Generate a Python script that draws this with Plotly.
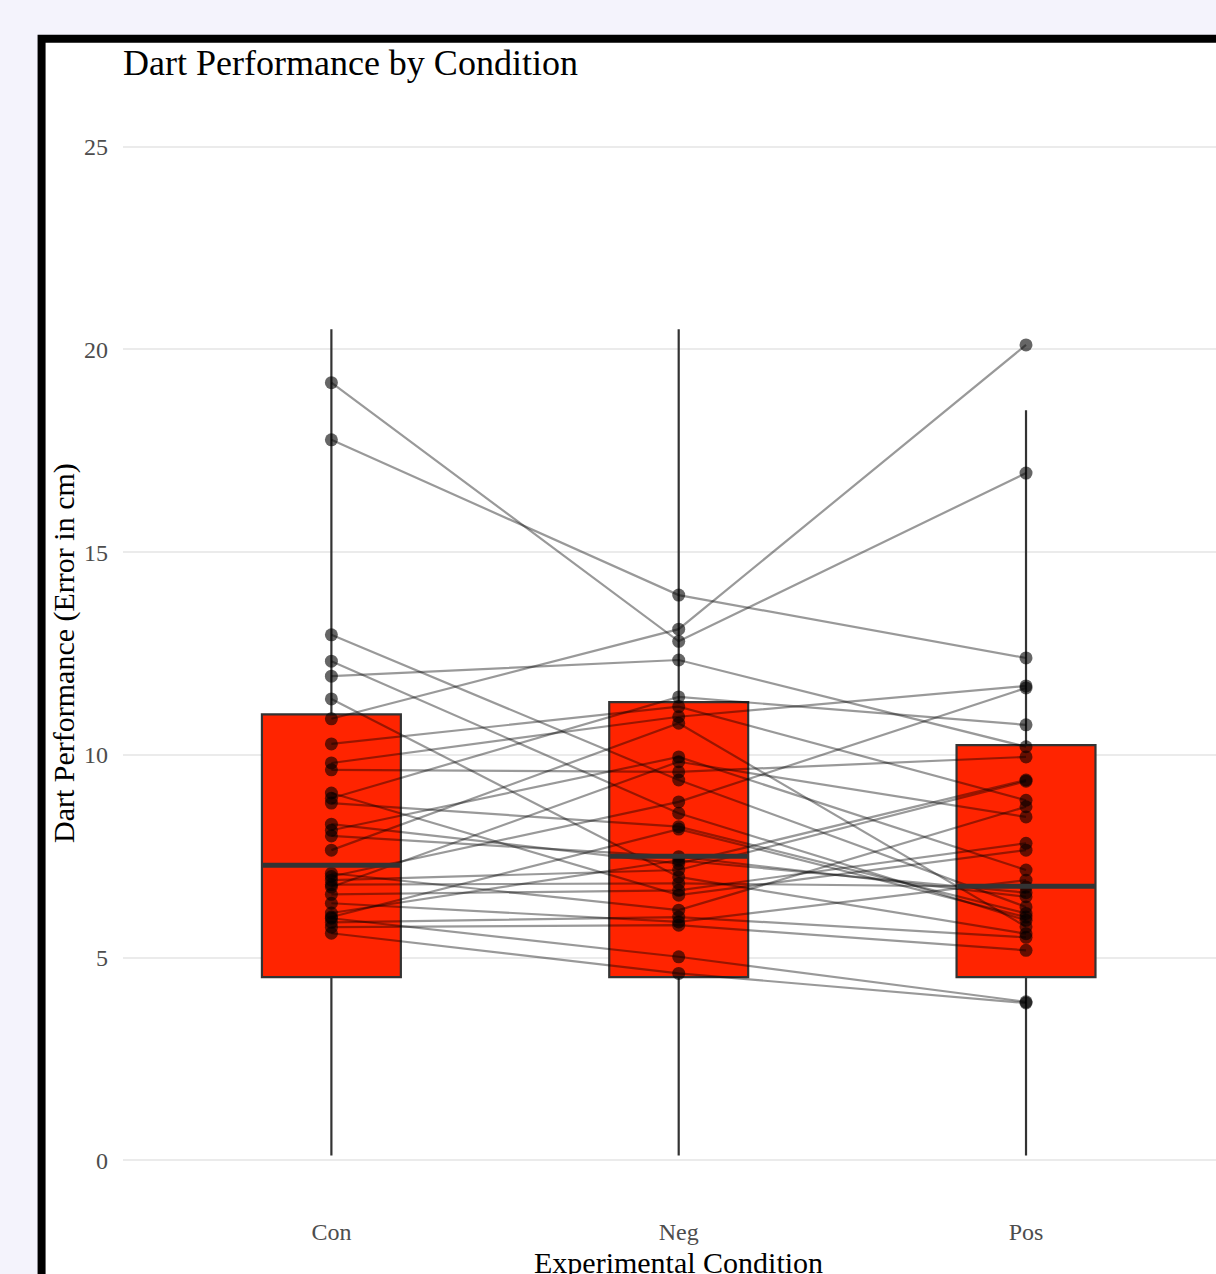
import plotly.graph_objects as go

# ---- data ----
conditions = ["Con", "Neg", "Pos"]

con_vals = [19.18, 17.77, 12.96, 12.31, 11.94, 11.38, 10.89, 10.27, 9.80, 9.63,
            9.06, 8.93, 8.81, 8.29, 8.14, 8.00, 7.65, 7.08, 7.00, 6.91,
            6.80, 6.74, 6.56, 6.34, 6.10, 6.00, 5.97, 5.87, 5.75, 5.60]
neg_vals = [12.80, 13.94, 9.38, 8.56, 12.34, 6.99, 13.10, 11.19, 10.94, 9.58,
            6.54, 11.43, 8.23, 7.32, 9.95, 7.49, 10.78, 6.17, 8.84, 7.16,
            6.83, 9.83, 6.66, 5.88, 7.40, 8.17, 5.02, 6.00, 5.80, 4.61]
pos_vals = [16.95, 12.39, 6.25, 5.92, 10.20, 5.59, 20.11, 8.88, 11.70, 9.95,
            7.65, 10.74, 6.09, 9.38, 7.16, 6.50, 5.76, 8.72, 11.65, 9.35,
            6.74, 8.47, 7.82, 6.91, 6.60, 6.00, 3.91, 5.50, 5.18, 3.88]

box_q1 = [4.52, 4.52, 4.52]
box_median = [7.28, 7.50, 6.76]
box_q3 = [11.00, 11.30, 10.24]
box_lower = [0.12, 0.12, 0.12]
box_upper = [20.50, 20.50, 18.50]

y_ticks = [0, 5, 10, 15, 20, 25]

# ---- style ----
FONT = "Liberation Serif"
BOX_FILL = "#ff2400"
BOX_LINE = "#333333"
BG = "#f4f3fc"

fig = go.Figure()

fig.add_trace(go.Box(
    x=conditions, q1=box_q1, median=box_median, q3=box_q3,
    lowerfence=box_lower, upperfence=box_upper,
    width=0.4, fillcolor=BOX_FILL, line=dict(color=BOX_LINE, width=2.2),
    whiskerwidth=0, boxpoints=False, showlegend=False, hoverinfo="skip",
))

# paired lines
lx, ly = [], []
for c, n, p in zip(con_vals, neg_vals, pos_vals):
    lx += conditions + [None]
    ly += [c, n, p, None]
fig.add_trace(go.Scatter(
    x=lx, y=ly, mode="lines", line=dict(color="rgba(0,0,0,0.4)", width=2.2),
    showlegend=False, hoverinfo="skip", connectgaps=False,
))

# points
px, py = [], []
for cond, vals in zip(conditions, [con_vals, neg_vals, pos_vals]):
    px += [cond] * len(vals)
    py += vals
fig.add_trace(go.Scatter(
    x=px, y=py, mode="markers",
    marker=dict(color="rgba(0,0,0,0.6)", size=13, line=dict(width=0)),
    showlegend=False,
))

shapes = []
# outer frame (white panel with black border)
shapes.append(dict(type="rect", xref="paper", yref="paper",
                   x0=-0.0745, x1=1.2, y0=-0.2, y1=1.0514,
                   line=dict(color="black", width=8), fillcolor="white",
                   layer="below"))
# thick median lines
for i, m in enumerate(box_median):
    shapes.append(dict(type="line", xref="x", yref="y",
                       x0=i - 0.2, x1=i + 0.2, y0=m, y1=m,
                       line=dict(color=BOX_LINE, width=5), layer="above"))

W, H = 1216, 1274
L, R, T, B = 122.5, 0, 96.3, 63.4

fig.update_layout(
    width=W, height=H,
    margin=dict(l=L, r=R, t=T, b=B, pad=0),
    paper_bgcolor=BG, plot_bgcolor="white",
    font=dict(family=FONT, color="black"),
    shapes=shapes,
    annotations=[
        dict(text="Dart Performance by Condition", xref="paper", yref="paper",
             x=-0.002, y=1 + (T - 63) / (H - T - B), xanchor="left", yanchor="middle",
             showarrow=False, font=dict(size=36, color="black", family=FONT)),
        dict(text="Dart Performance (Error in cm)", xref="paper", yref="paper",
             x=(63 - L) / (W - L - R), y=0.5, textangle=-90,
             xanchor="center", yanchor="middle",
             showarrow=False, font=dict(size=30, color="black", family=FONT)),
        dict(text="Experimental Condition", xref="x", yref="paper",
             x=1, y=-(1262 - (H - B)) / (H - T - B), xanchor="center", yanchor="middle",
             showarrow=False, font=dict(size=30, color="black", family=FONT)),
    ],
    xaxis=dict(type="category", categoryorder="array", categoryarray=conditions,
               range=[-0.6, 2.547], showgrid=False, zeroline=False, showline=False,
               ticks="", tickfont=dict(size=24, color="#4d4d4d", family=FONT),
               ticklabelstandoff=4),
    yaxis=dict(range=[-1.25, 26.25], tickvals=y_ticks, showgrid=True,
               gridcolor="#ebebeb", gridwidth=2, zeroline=False, showline=False,
               ticks="", tickfont=dict(size=24, color="#4d4d4d", family=FONT),
               ticklabelstandoff=14),
)

fig.write_html("out.html",
               post_script="document.body.style.margin='0';document.body.style.overflow='hidden';document.body.style.background='" + BG + "';",
               config={"displayModeBar": False})
